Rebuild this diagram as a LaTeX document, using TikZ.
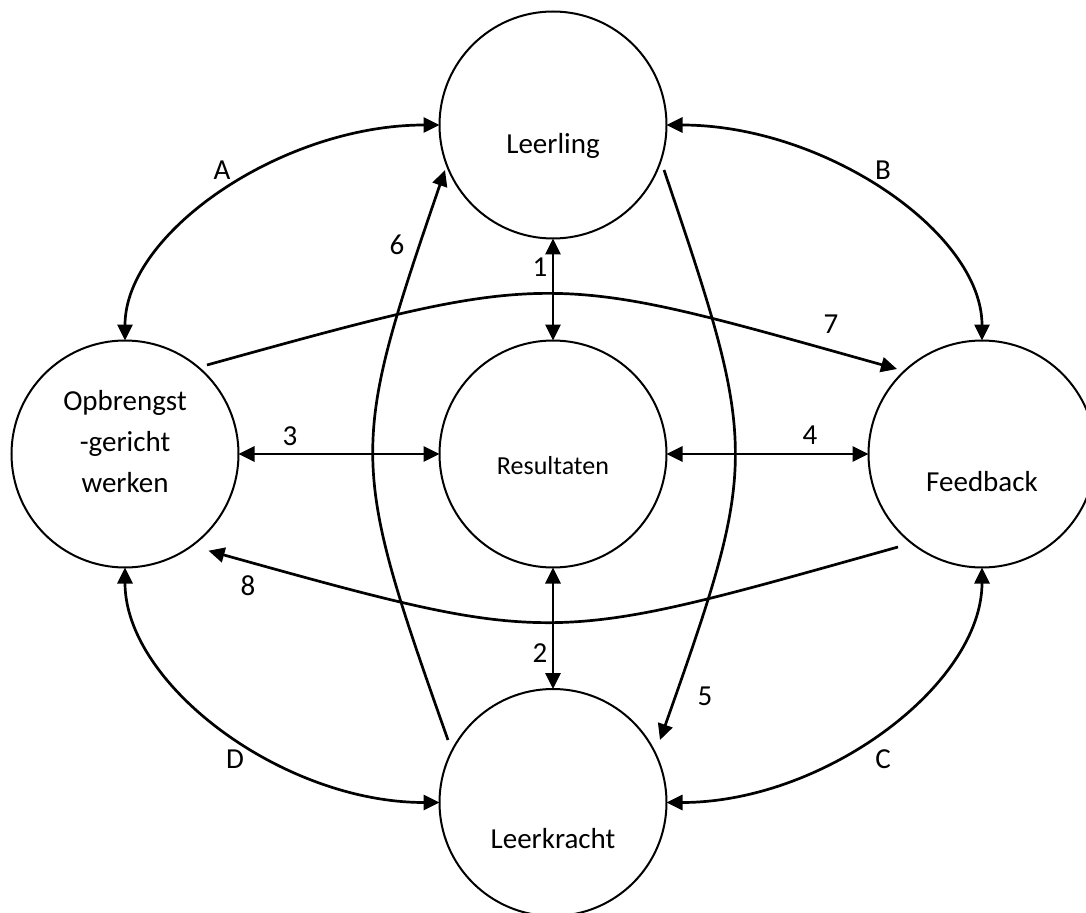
\documentclass[tikz,border=0pt]{standalone}
\usepackage{fontspec}
\setmainfont{Carlito}
\usetikzlibrary{arrows.meta,calc}
\begin{document}
\begin{tikzpicture}[x=0.5pt,y=0.5pt,
  >={Triangle[length=8pt,width=7.5pt]},
  circ/.style={circle,draw,line width=1pt,minimum size=113.5pt,inner sep=0pt,outer sep=0pt},
  conn/.style={line width=1.35pt},
  txt/.style={font=\fontsize{14.5}{20.5}\selectfont,inner sep=0pt,anchor=base,align=center},
  lab/.style={font=\fontsize{14.5}{17}\selectfont,inner sep=0pt}]
\useasboundingbox (0,0) rectangle (1086,912);
\clip (0,0) rectangle (1086,912);
% circles
\node[circ] (le) at (553,787) {};
\node[circ] (re) at (553,458) {};
\node[circ] (lk) at (553,109.5) {};
\node[circ] (op) at (125,458) {};
\node[circ] (fb) at (982,458) {};
% texts
\node[txt] (leT) at (553,758) {Leerling};
\node[txt,font=\fontsize{13}{16}\selectfont] (reT) at (553,438) {Resultaten};
\node[txt] (lkT) at (553,64) {Leerkracht};
\node[txt] (fbT) at (982,420.5) {Feedback};
\node[txt] (opT) at (125,420) {Opbrengst\\-gericht\\werken};
% straight double arrows
\draw[conn,<->] (le.south) -- (re.north);
\draw[conn,<->] (re.south) -- (lk.north);
\draw[conn,<->] (op.east) -- (re.west);
\draw[conn,<->] (re.east) -- (fb.west);
% outer arcs
\draw[conn,<->] (op.north) .. controls +(0,108) and +(-157,0) .. (le.west);
\draw[conn,<->] (le.east) .. controls +(158,0) and +(0,108) .. (fb.north);
\draw[conn,<->] (fb.south) .. controls +(0,-117) and +(158,0) .. (lk.east);
\draw[conn,<->] (op.south) .. controls +(0,-117) and +(-157,0) .. (lk.west);
% long curves
\draw[conn,->] ($(le)+(111,-45)$) .. controls +(95,-280) and +(99,280) .. ($(lk)+(107,62.5)$);
\draw[conn,->] ($(lk)+(-105,62.5)$) .. controls +(-99,280) and +(-96,-280) .. ($(le)+(-108,-45)$);
\draw[conn,->] ($(op)+(82,89)$) .. controls +(350,97) and +(-350,98) .. ($(fb)+(-85,85)$);
\draw[conn,->] ($(fb)+(-84,-93)$) .. controls +(-350,-98) and +(349.5,-97.3) .. ($(op)+(83.5,-96.7)$);
% labels
\node[lab] (lA) at (222,742) {A};
\node[lab] (lB) at (883,742) {B};
\node[lab] (lC) at (883,153) {C};
\node[lab] (lD) at (235,153) {D};
\node[lab] (l1) at (540,645) {1};
\node[lab] (l2) at (540,259) {2};
\node[lab] (l3) at (290,476) {3};
\node[lab] (l4) at (810,477) {4};
\node[lab] (l5) at (705,216) {5};
\node[lab] (l6) at (397,667) {6};
\node[lab] (l7) at (831,588) {7};
\node[lab] (l8) at (248,326) {8};
\end{tikzpicture}
\end{document}
